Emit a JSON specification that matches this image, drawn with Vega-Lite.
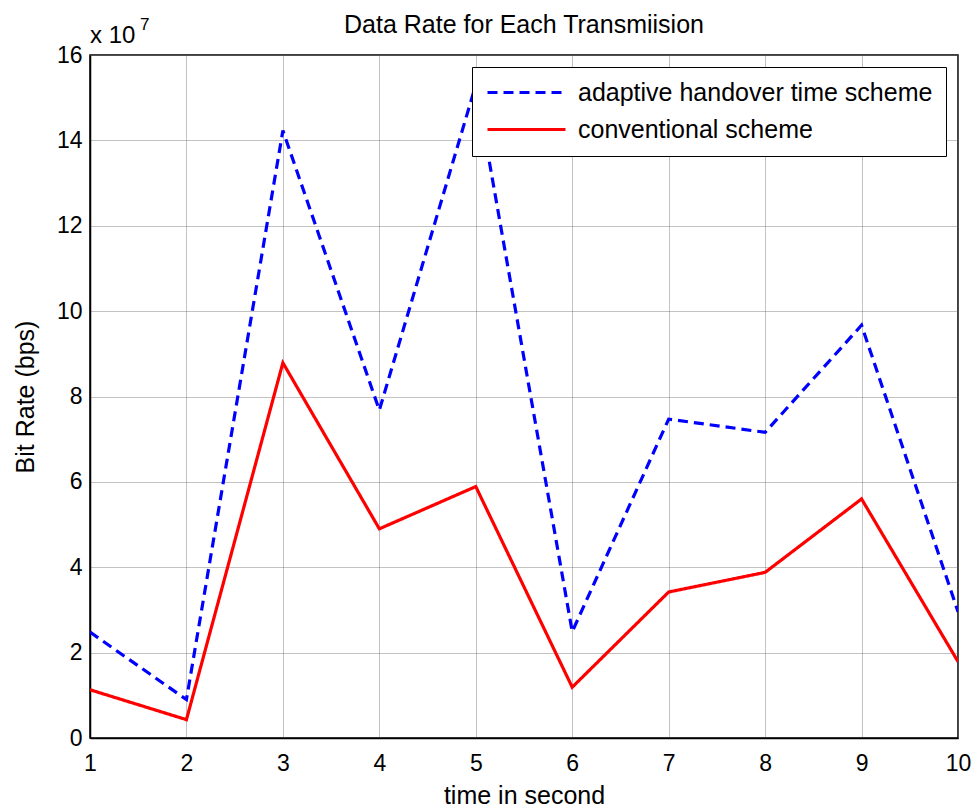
{
  "$schema": "https://vega.github.io/schema/vega-lite/v6.json",
  "width": 868,
  "height": 683,
  "autosize": {"type": "none"},
  "padding": {"left": 90, "top": 55, "right": 18, "bottom": 70},
  "background": "white",
  "config": {
    "font": "Liberation Sans",
    "view": {"stroke": "black", "strokeWidth": 1.5},
    "axis": {
      "labelFont": "Liberation Sans",
      "titleFont": "Liberation Sans",
      "labelFontSize": 23,
      "titleFontSize": 25,
      "labelColor": "black",
      "titleColor": "black",
      "titleFontWeight": "normal",
      "domainColor": "black",
      "domainWidth": 1.5,
      "ticks": false,
      "gridColor": "#666",
      "gridDash": [1, 1],
      "gridWidth": 1,
      "gridOpacity": 0.8
    }
  },
  "title": {
    "text": "Data Rate for Each Transmiision",
    "font": "Liberation Sans",
    "fontSize": 25,
    "fontWeight": "normal",
    "color": "black",
    "offset": -22
  },
  "layer": [
    {
      "data": {
        "values": [
          {"time": 1, "rate": 24800000, "scheme": "adaptive handover time scheme"},
          {"time": 2, "rate": 9000000, "scheme": "adaptive handover time scheme"},
          {"time": 3, "rate": 142300000, "scheme": "adaptive handover time scheme"},
          {"time": 4, "rate": 76800000, "scheme": "adaptive handover time scheme"},
          {"time": 5, "rate": 153000000, "scheme": "adaptive handover time scheme"},
          {"time": 6, "rate": 24900000, "scheme": "adaptive handover time scheme"},
          {"time": 7, "rate": 74700000, "scheme": "adaptive handover time scheme"},
          {"time": 8, "rate": 71600000, "scheme": "adaptive handover time scheme"},
          {"time": 9, "rate": 96700000, "scheme": "adaptive handover time scheme"},
          {"time": 10, "rate": 29600000, "scheme": "adaptive handover time scheme"},
          {"time": 1, "rate": 11300000, "scheme": "conventional scheme"},
          {"time": 2, "rate": 4300000, "scheme": "conventional scheme"},
          {"time": 3, "rate": 87900000, "scheme": "conventional scheme"},
          {"time": 4, "rate": 49000000, "scheme": "conventional scheme"},
          {"time": 5, "rate": 58900000, "scheme": "conventional scheme"},
          {"time": 6, "rate": 11900000, "scheme": "conventional scheme"},
          {"time": 7, "rate": 34200000, "scheme": "conventional scheme"},
          {"time": 8, "rate": 38800000, "scheme": "conventional scheme"},
          {"time": 9, "rate": 56000000, "scheme": "conventional scheme"},
          {"time": 10, "rate": 17900000, "scheme": "conventional scheme"}
        ]
      },
      "mark": {"type": "line", "strokeWidth": 3.2, "clip": true},
      "encoding": {
        "x": {
          "field": "time",
          "type": "quantitative",
          "scale": {"domain": [1, 10], "nice": false, "zero": false},
          "axis": {"values": [1, 2, 3, 4, 5, 6, 7, 8, 9, 10], "format": "d", "title": "time in second", "labelPadding": 14, "titlePadding": 8, "labelFlush": false}
        },
        "y": {
          "field": "rate",
          "type": "quantitative",
          "scale": {"domain": [0, 160000000], "nice": false},
          "axis": {
            "values": [0, 20000000, 40000000, 60000000, 80000000, 100000000, 120000000, 140000000, 160000000],
            "labelExpr": "format(datum.value / 10000000, 'd')",
            "title": "Bit Rate (bps)",
            "labelPadding": 8,
            "titlePadding": 18
          }
        },
        "color": {
          "field": "scheme",
          "type": "nominal",
          "scale": {"domain": ["adaptive handover time scheme", "conventional scheme"], "range": ["#0000ff", "#ff0000"]},
          "legend": {
            "title": null,
            "orient": "top-right",
            "offset": 12,
            "fillColor": "white",
            "strokeColor": "black",
            "padding": 13,
            "labelFont": "Liberation Sans",
            "labelFontSize": 25,
            "labelColor": "black",
            "labelLimit": 500,
            "labelOffset": 68,
            "rowPadding": 11,
            "symbolType": "M-1,0H6.8",
            "symbolSize": 400,
            "symbolStrokeWidth": 3.2
          }
        },
        "strokeDash": {
          "field": "scheme",
          "type": "nominal",
          "scale": {"domain": ["adaptive handover time scheme", "conventional scheme"], "range": [[10, 6], [1, 0]]},
          "legend": {
            "title": null,
            "orient": "top-right",
            "offset": 12,
            "fillColor": "white",
            "strokeColor": "black",
            "padding": 13,
            "labelFont": "Liberation Sans",
            "labelFontSize": 25,
            "labelColor": "black",
            "labelLimit": 500,
            "labelOffset": 68,
            "rowPadding": 11,
            "symbolType": "M-1,0H6.8",
            "symbolSize": 400,
            "symbolStrokeWidth": 3.2
          }
        }
      }
    },
    {
      "data": {"values": [{"label": "x 10", "exp": "7"}]},
      "mark": {"type": "text", "font": "Liberation Sans", "fontSize": 24, "align": "left", "baseline": "alphabetic", "dy": -12, "color": "black"},
      "encoding": {
        "x": {"datum": 1, "type": "quantitative"},
        "y": {"datum": 160000000, "type": "quantitative"},
        "text": {"field": "label"}
      }
    },
    {
      "data": {"values": [{"label": "x 10", "exp": "7"}]},
      "mark": {"type": "text", "font": "Liberation Sans", "fontSize": 17, "align": "left", "baseline": "alphabetic", "dx": 50, "dy": -25, "color": "black"},
      "encoding": {
        "x": {"datum": 1, "type": "quantitative"},
        "y": {"datum": 160000000, "type": "quantitative"},
        "text": {"field": "exp"}
      }
    }
  ]
}
